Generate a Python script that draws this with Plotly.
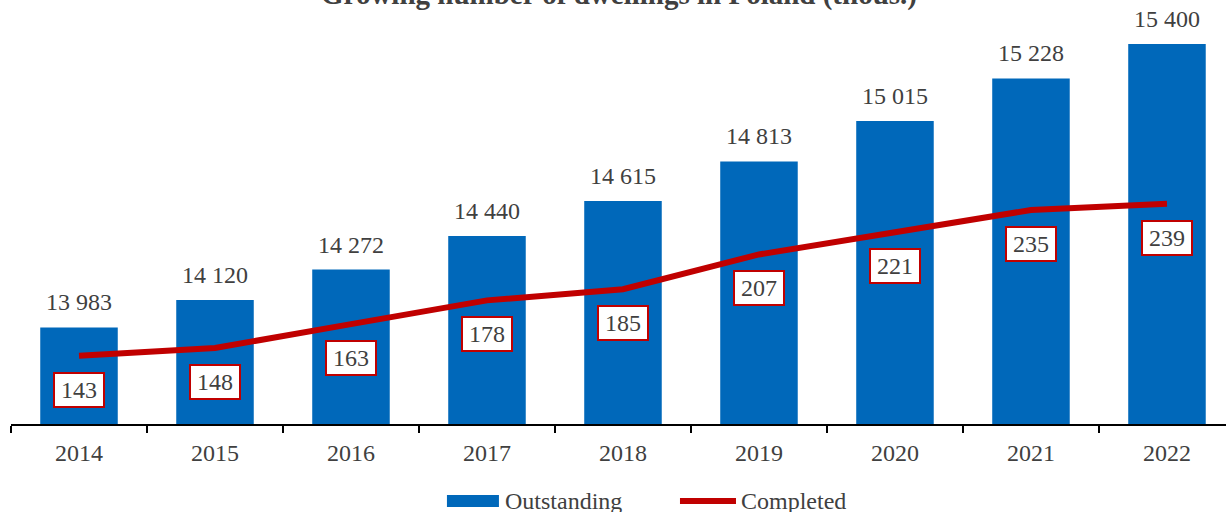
import plotly.graph_objects as go

years = ["2014", "2015", "2016", "2017", "2018", "2019", "2020", "2021", "2022"]
outstanding = [13983, 14120, 14272, 14440, 14615, 14813, 15015, 15228, 15400]
completed = [143, 148, 163, 178, 185, 207, 221, 235, 239]
outstanding_labels = ["13 983", "14 120", "14 272", "14 440", "14 615", "14 813", "15 015", "15 228", "15 400"]

FONT = "Liberation Serif, Times New Roman, serif"
TXT = "#404040"
BLUE = "#0068BA"
RED = "#C00000"

fig = go.Figure()
fig.add_trace(go.Bar(x=years, y=outstanding, name="Outstanding", marker_color=BLUE,
                     marker_line_width=0, width=0.57, yaxis="y", showlegend=False))
fig.add_trace(go.Scatter(x=years, y=completed, name="Completed", mode="lines",
                         line=dict(color=RED, width=6), yaxis="y2", showlegend=False))

ann = []
# category axis: annotations use the category index (year strings look numeric)
for i, (v, lab) in enumerate(zip(outstanding, outstanding_labels)):
    ann.append(dict(x=i, y=v, xref="x", yref="y", text=lab, showarrow=False,
                    yanchor="middle", yshift=25, font=dict(family=FONT, size=24, color=TXT)))
for i, v in enumerate(completed):
    ann.append(dict(x=i, y=v, xref="x", yref="y2", text=str(v), showarrow=False,
                    yanchor="middle", yshift=-34, bgcolor="white", bordercolor=RED,
                    borderwidth=2, borderpad=2, width=44, height=28,
                    font=dict(family=FONT, size=24, color=TXT)))

# title (partially cut at top as in the reference)
ann.append(dict(x=0.5, y=1, xref="paper", yref="paper", text="<b>Growing number of dwellings in Poland (thous.)</b>",
                showarrow=False, yanchor="bottom", yshift=-9, font=dict(family=FONT, size=29, color=TXT)))
# custom legend
ann.append(dict(x=0.4049, y=-0.1833, xref="paper", yref="paper", text="Outstanding", showarrow=False,
                xanchor="left", yanchor="middle", font=dict(family=FONT, size=24, color=TXT)))
ann.append(dict(x=0.5992, y=-0.1833, xref="paper", yref="paper", text="Completed", showarrow=False,
                xanchor="left", yanchor="middle", font=dict(family=FONT, size=24, color=TXT)))

shapes = [
    dict(type="rect", xref="paper", yref="paper", x0=0.3588, x1=0.4016, y0=-0.169, y1=-0.1976,
         fillcolor=BLUE, line_width=0),
    dict(type="line", xref="paper", yref="paper", x0=0.5506, x1=0.5967, y0=-0.1833, y1=-0.1833,
         line=dict(color=RED, width=6)),
]

hidden = dict(showgrid=False, zeroline=False, showline=False, showticklabels=False, ticks="")

fig.update_layout(
    width=1226, height=512,
    margin=dict(l=11, r=0, t=4, b=88),
    paper_bgcolor="white", plot_bgcolor="white",
    font=dict(family=FONT, size=24, color=TXT),
    showlegend=False,
    annotations=ann, shapes=shapes,
    xaxis=dict(type="category", range=[-0.5, 8.434], showline=True, linecolor="black", linewidth=2,
               ticks="outside", ticklen=7, tickcolor="black", tickwidth=2, tickson="boundaries",
               showgrid=False, ticklabelstandoff=6, tickfont=dict(family=FONT, size=24, color=TXT)),
    yaxis=dict(range=[13500, 15600], **hidden),
    yaxis2=dict(range=[100, 365], overlaying="y", **hidden),
)

fig.write_html("out.html", config={"displayModeBar": False},
               post_script="document.body.style.margin='0';document.body.style.overflow='hidden';")
